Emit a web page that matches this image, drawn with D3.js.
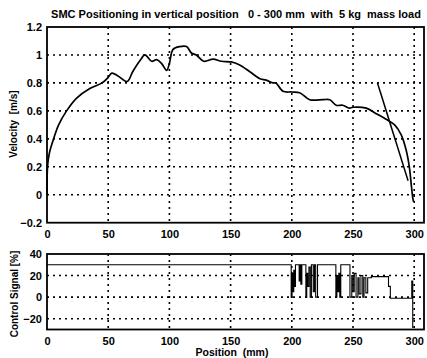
<!DOCTYPE html>
<html>
<head>
<meta charset="utf-8">
<script src="https://cdn.jsdelivr.net/npm/d3@7"></script>
<style>
  body { margin: 0; background: #fff; }
  svg { display: block; }
  text { font-family: "Liberation Sans", Arial, sans-serif; font-weight: bold; fill: #000; }
</style>
</head>
<body>
<svg id="chart" width="427" height="358"></svg>
<script>
// velocity profile (position mm, velocity m/s)
var velPos = [0, 0.5, 2, 5.4, 9.5, 16, 24, 35, 45, 50, 53, 58, 65.5, 70, 76, 80, 85.5, 89.5, 93.5, 97.8, 100, 103, 108.5, 114, 118, 122, 128, 135.7, 142.5, 150.5, 157, 165.7, 174, 179, 184.7, 187, 192.8, 200, 206.4, 214.6, 225.4, 231, 236.3, 241.6, 247, 250, 260.8, 269, 277, 284, 289.3, 293.4, 296, 297.5, 298.8, 299.5];
var velVal = [0, 0.21, 0.3, 0.4, 0.5, 0.6, 0.69, 0.76, 0.8, 0.84, 0.87, 0.85, 0.81, 0.88, 0.96, 1.0, 0.955, 0.966, 0.94, 0.89, 0.94, 1.04, 1.06, 1.06, 1.014, 1.0, 0.955, 0.97, 0.955, 0.95, 0.93, 0.88, 0.83, 0.82, 0.80, 0.80, 0.74, 0.735, 0.73, 0.68, 0.68, 0.68, 0.64, 0.64, 0.62, 0.626, 0.62, 0.58, 0.54, 0.50, 0.43, 0.32, 0.2, 0.08, -0.02, -0.05];
// sliding surface line
var surfPos = [270, 295];
var surfVal = [0.80, 0.10];

// control signal (position mm, %)
var ctrlPos = [0, 199.5, 200.2, 200.9, 201.6, 202.3, 203, 206, 206.6, 207.4, 208.2, 211.5, 212.2, 213, 214, 215, 216, 217.5, 218.5, 219.5, 221, 236, 236.8, 237.6, 238.4, 239.2, 240, 247.5, 249, 250, 251, 252.5, 254, 255, 256.5, 258, 259, 260.5, 262, 265, 279, 280.5, 298, 298.8, 299.5];
var ctrlVal = [30, 0, 22, 5, 25, 10, 30, 15, 30, 12, 30, 0, 22, 10, 28, 0, 30, 5, 30, 0, 30, 0, 20, 5, 22, 0, 30, 0, 20, 5, 22, 0, 18, 3, 20, 0, 18, 4, 18, 19, 10, -1, 15, -28, -28];

var xTicks = [0, 50, 100, 150, 200, 250, 300];
var velTicks = [-0.2, 0, 0.2, 0.4, 0.6, 0.8, 1, 1.2];
var ctrlTicks = [-20, 0, 20, 40];

var title = "SMC Positioning in vertical position   0 - 300 mm  with  5 kg  mass load";

var svg = d3.select("#chart");
var left = 47, right = 424;

var x = d3.scaleLinear().domain([0, 308]).range([left, right]);
var yV = d3.scaleLinear().domain([-0.2, 1.2]).range([222.7, 27]);
var yC = d3.scaleLinear().domain([-30, 40]).range([329.5, 254]);

function panel(y, yTicks, fmt) {
    var g = svg.append("g");
    var r = y.range();
    // grid
    g.selectAll(".vg").data(xTicks.slice(1)).enter().append("line")
        .attr("x1", d => x(d)).attr("x2", d => x(d))
        .attr("y1", r[1]).attr("y2", r[0])
        .attr("stroke", "#000").attr("stroke-width", 1.6)
        .attr("stroke-dasharray", "2,4");
    g.selectAll(".hg").data(yTicks.filter(d => d > y.domain()[0] && d < y.domain()[1])).enter().append("line")
        .attr("x1", left).attr("x2", right)
        .attr("y1", d => y(d)).attr("y2", d => y(d))
        .attr("stroke", "#000").attr("stroke-width", 1.6)
        .attr("stroke-dasharray", "2,4");
    // box
    g.append("rect").attr("x", left).attr("y", r[1])
        .attr("width", right - left).attr("height", r[0] - r[1])
        .attr("fill", "none").attr("stroke", "#000").attr("stroke-width", 1.8);
    // axes
    var xa = g.append("g").attr("transform", `translate(0,${r[0]})`)
        .call(d3.axisBottom(x).tickValues(xTicks).tickSize(0).tickPadding(8));
    var ya = g.append("g").attr("transform", `translate(${left},0)`)
        .call(d3.axisLeft(y).tickValues(yTicks).tickFormat(fmt).tickSize(0).tickPadding(5));
    [xa, ya].forEach(a => {
        a.select(".domain").remove();
        a.selectAll("text").style("font-size", "11px").style("font-family", "Liberation Sans, Arial, sans-serif").style("font-weight", "bold");
    });
    return g;
}

panel(yV, velTicks, d3.format("~g"));
panel(yC, ctrlTicks, d3.format("d"));

var line = d3.line().x(d => x(d[0])).y(d => yV(d[1])).curve(d3.curveCatmullRom.alpha(0.5));
svg.append("path").datum(d3.zip(velPos, velVal))
    .attr("d", line).attr("fill", "none").attr("stroke", "#000").attr("stroke-width", 1.7)
    .attr("stroke-linejoin", "round");
svg.append("path").datum(d3.zip(surfPos, surfVal))
    .attr("d", line).attr("fill", "none").attr("stroke", "#000").attr("stroke-width", 1.5);

var cline = d3.line().x(d => x(d[0])).y(d => yC(d[1])).curve(d3.curveStepAfter);
svg.append("path").datum(d3.zip(ctrlPos, ctrlVal))
    .attr("d", cline).attr("fill", "none").attr("stroke", "#000").attr("stroke-width", 1.1);

// labels
svg.append("text").attr("x", 236).attr("y", 18).attr("text-anchor", "middle")
    .style("font-size", "11px").style("white-space", "pre").text(title);
svg.append("text").attr("transform", "translate(17,124) rotate(-90)").attr("text-anchor", "middle")
    .style("font-size", "10px").style("white-space", "pre").text("Velocity  [m/s]");
svg.append("text").attr("transform", "translate(18,294) rotate(-90)").attr("text-anchor", "middle")
    .style("font-size", "10px").text("Control Signal [%]");
svg.append("text").attr("x", 232).attr("y", 356).attr("text-anchor", "middle")
    .style("font-size", "10.5px").style("white-space", "pre").text("Position  (mm)");
</script>
</body>
</html>
